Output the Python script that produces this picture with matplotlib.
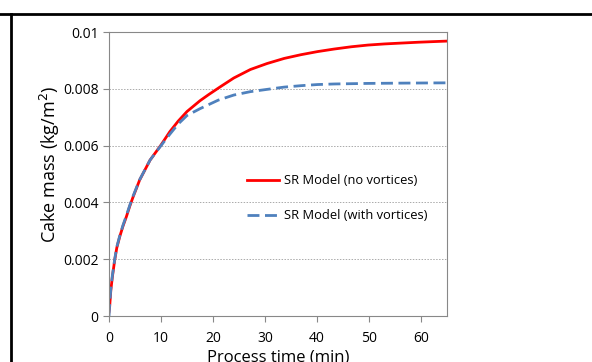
#!/usr/bin/env python3
"""Cake mass growth over process time for the two SR model variants."""
import matplotlib

matplotlib.use("Agg")
import matplotlib.pyplot as plt  # noqa: E402
from matplotlib.lines import Line2D  # noqa: E402

# time (min) and cake mass (kg/m^2)
time_no_vort = [0, 0.13, 0.35, 0.65, 1.1, 1.5, 2.06, 2.7, 3.35, 4.0, 4.65, 5.9, 7.9, 10,
                11.7, 13.3, 15, 17.5, 19.2, 21.4, 24.0, 27.2, 30.4, 33.7, 36.9, 40.1, 43.3,
                46.6, 49.8, 53, 56.2, 59.5, 62.2, 65]
mass_no_vort = [0.00015, 0.00033, 0.0009, 0.00138, 0.00197, 0.0024, 0.00279, 0.00317, 0.0035,
                0.00387, 0.0042, 0.00479, 0.00549, 0.00602, 0.00649, 0.00686, 0.0072, 0.00758,
                0.0078, 0.00807, 0.00838, 0.00868, 0.00889, 0.00907, 0.0092, 0.00931, 0.0094,
                0.00948, 0.00954, 0.00958, 0.00961, 0.00964, 0.00966, 0.00968]

time_vort = [0, 0.13, 0.35, 0.65, 1.1, 1.5, 2.06, 2.7, 3.35, 4.0, 4.65, 5.9, 7.9, 10, 11.7,
             13.3, 15, 17.5, 21, 24, 27.2, 30.4, 33.7, 36.9, 40.1, 43.3, 49.8, 56.2, 65]
mass_vort = [0.0, 0.0004, 0.00095, 0.00142, 0.002, 0.00243, 0.00282, 0.0032, 0.00354, 0.0039,
             0.00423, 0.0048, 0.00549, 0.006, 0.0064, 0.00676, 0.00706, 0.0073, 0.0076,
             0.00778, 0.0079, 0.00798, 0.00806, 0.00811, 0.00815, 0.00817, 0.00819, 0.0082,
             0.00821]

labels = ["SR Model (no vortices)", "SR Model (with vortices)"]

plt.rcParams["font.family"] = ["Open Sans", "DejaVu Sans"]

fig = plt.figure(figsize=(5.92, 3.62), dpi=100)
ax = fig.add_axes([0.1841, 0.127, 0.5709, 0.7846])

ax.plot(time_no_vort, mass_no_vort, color="#FF0000", lw=2.0, label=labels[0])
ax.plot(time_vort, mass_vort, color="#4F81BD", lw=2.0, ls=(0, (4.3, 2.0)), label=labels[1])

ax.set_xlim(0, 65)
ax.set_ylim(0, 0.01)
ax.set_xticks([0, 10, 20, 30, 40, 50, 60])
ax.set_yticks([0, 0.002, 0.004, 0.006, 0.008, 0.01])
ax.set_yticklabels(["0", "0.002", "0.004", "0.006", "0.008", "0.01"])
ax.tick_params(labelsize=10, length=4, color="#888888", width=0.8)
ax.tick_params(axis="x", pad=7)

for y in [0.002, 0.004, 0.006, 0.008]:
    ax.axhline(y, color="#AAAAAA", lw=0.7, ls=(0, (1.5, 1.5)), zorder=0)

for spine in ax.spines.values():
    spine.set_color("#888888")
    spine.set_linewidth(0.8)

ax.set_ylabel("Cake mass (kg/m$^2$)", fontsize=13, labelpad=1)
ax.yaxis.set_label_coords(-0.14, 0.535)
ax.set_xlabel("Process time (min)", fontsize=12, labelpad=2)

ax.legend(loc="center left", bbox_to_anchor=(0.373, 0.414), frameon=False, fontsize=9.3,
          handlelength=2.5, labelspacing=1.7, handletextpad=0.4)

# outer border lines seen in the original screenshot
fig.add_artist(Line2D([0, 1], [1 - 14 / 362, 1 - 14 / 362], color="black", lw=2,
                      transform=fig.transFigure))
fig.add_artist(Line2D([11 / 592, 11 / 592], [0, 1 - 14 / 362], color="black", lw=2,
                      transform=fig.transFigure))

fig.savefig("out.png", dpi=100)
